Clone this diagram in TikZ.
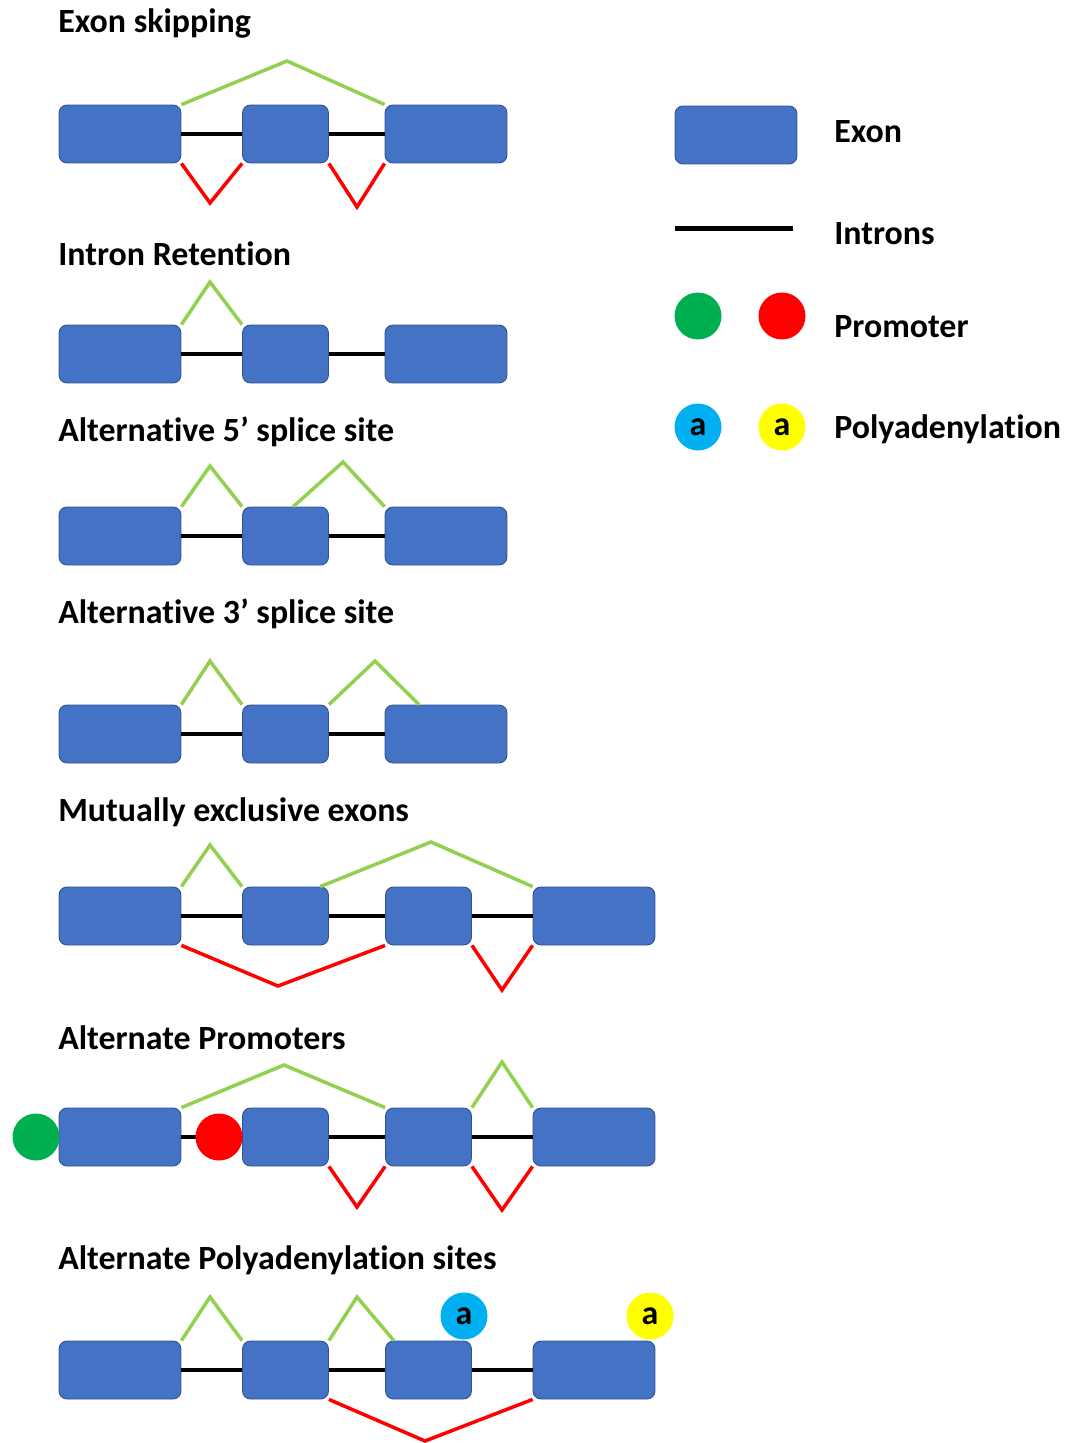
\documentclass[tikz,border=0pt]{standalone}
\usepackage{fontspec}
\setmainfont[Ligatures=NoCommon]{Carlito}
\usetikzlibrary{calc}

\definecolor{exonblue}{HTML}{4472C4}
\definecolor{exonedge}{HTML}{2F528F}
\definecolor{joingreen}{HTML}{92D050}
\definecolor{promgreen}{HTML}{00B050}
\definecolor{polyblue}{HTML}{00B0F0}
\definecolor{polyyellow}{HTML}{FFFF00}

\begin{document}
\begin{tikzpicture}[x=0.02cm,y=-0.02cm,
  exon/.style={draw=exonedge, line width=0.5pt, fill=exonblue, rounded corners=0.16cm,
    minimum height=1.16cm, inner sep=0pt},
  wide/.style={minimum width=2.44cm},
  narrow/.style={minimum width=1.72cm},
  intron/.style={line width=0.07cm, black},
  incl/.style={line width=0.07cm, joingreen},
  excl/.style={line width=0.07cm, red},
  title/.style={anchor=base west, inner sep=0pt, font=\bfseries\fontsize{19.3}{23}\selectfont},
  dot/.style={circle, minimum size=0.94cm, inner sep=0pt, font=\bfseries\fontsize{19.3}{23}\selectfont}]
\useasboundingbox (0,0) rectangle (1070,1443);

% Titles
\node[title] (t1) at (58,33) {Exon skipping};
\node[title] (t2) at (58,265) {Intron Retention};
\node[title] (t3) at (58,441) {Alternative 5’ splice site};
\node[title] (t4) at (58,623) {Alternative 3’ splice site};
\node[title] (t5) at (58,821) {Mutually exclusive exons};
\node[title] (t6) at (58,1049) {Alternate Promoters};
\node[title] (t7) at (58,1269) {Alternate Polyadenylation sites};

% First two exons of every row
\foreach \r/\y in {1/134,2/354,3/536,4/734,5/916,6/1137,7/1370} {
  \node[exon,wide] (e\r1) at (120,\y) {};
  \node[exon,narrow] (e\r2) at (285.5,\y) {};
  \draw[intron] (e\r1.east) -- (e\r2.west);
}
% Three-exon rows
\foreach \r/\y in {1/134,2/354,3/536,4/734} {
  \node[exon,wide] (e\r3) at (446,\y) {};
  \draw[intron] (e\r2.east) -- (e\r3.west);
}
% Four-exon rows
\foreach \r/\y in {5/916,6/1137,7/1370} {
  \node[exon,narrow] (e\r3) at (428.5,\y) {};
  \node[exon,wide] (e\r4) at (594,\y) {};
  \draw[intron] (e\r2.east) -- (e\r3.west);
  \draw[intron] (e\r3.east) -- (e\r4.west);
}

% Exon skipping
\coordinate (p1a) at (287,61);
\coordinate (p1b) at (210,203);
\coordinate (p1c) at (357,207);
\draw[incl] (e11.north east) -- (p1a) -- (e13.north west);
\draw[excl] (e11.south east) -- (p1b) -- (e12.south west);
\draw[excl] (e12.south east) -- (p1c) -- (e13.south west);

% Intron retention
\coordinate (p2a) at (210,282);
\draw[incl] (e21.north east) -- (p2a) -- (e22.north west);

% Alternative 5' splice site
\coordinate (p3a) at (210,466);
\coordinate (p3b) at (343,462);
\draw[incl] (e31.north east) -- (p3a) -- (e32.north west);
\draw[incl] ($(e32.north west)!0.59!(e32.north east)$) -- (p3b) -- (e33.north west);

% Alternative 3' splice site
\coordinate (p4a) at (210,661);
\coordinate (p4b) at (375,661);
\draw[incl] (e41.north east) -- (p4a) -- (e42.north west);
\draw[incl] (e42.north east) -- (p4b) -- ($(e43.north west)!0.28!(e43.north east)$);

% Mutually exclusive exons
\coordinate (p5a) at (210,845);
\coordinate (p5b) at (431,842);
\coordinate (p5c) at (278,986);
\coordinate (p5d) at (502,990);
\draw[incl] (e51.north east) -- (p5a) -- (e52.north west);
\draw[incl] ($(e52.north west)!0.9!(e52.north east)$) -- (p5b) -- (e54.north west);
\draw[excl] (e51.south east) -- (p5c) -- (e53.south west);
\draw[excl] (e53.south east) -- (p5d) -- (e54.south west);

% Alternate promoters
\coordinate (p6a) at (284,1065);
\coordinate (p6b) at (502,1062);
\coordinate (p6c) at (357,1207);
\coordinate (p6d) at (502,1210);
\draw[incl] (e61.north east) -- (p6a) -- (e63.north west);
\draw[incl] (e63.north east) -- (p6b) -- (e64.north west);
\draw[excl] (e62.south east) -- (p6c) -- (e63.south west);
\draw[excl] (e63.south east) -- (p6d) -- (e64.south west);
\node[dot, fill=promgreen] (pr1) at (36,1137) {};
\node[dot, fill=red] (pr2) at (219,1137) {};

% Alternate polyadenylation sites
\coordinate (p7a) at (210,1297);
\coordinate (p7b) at (357,1297);
\coordinate (p7c) at (425,1441);
\draw[incl] (e71.north east) -- (p7a) -- (e72.north west);
\draw[incl] (e72.north east) -- (p7b) -- ($(e73.north west)!0.1!(e73.north east)$);
\draw[excl] (e72.south east) -- (p7c) -- (e74.south west);
\node[dot, fill=polyblue] (pa1) at (464,1316) {a};
\node[dot, fill=polyyellow] (pa2) at (650,1316) {a};

% Legend
\node[exon,wide] (lexon) at (736,135) {};
\coordinate (li1) at (675,228);
\coordinate (li2) at (793,228);
\draw[line width=0.1cm] (li1) -- (li2);
\node[dot, fill=promgreen] (lp1) at (698,316) {};
\node[dot, fill=red] (lp2) at (782,316) {};
\node[dot, fill=polyblue] (la1) at (698,427) {a};
\node[dot, fill=polyyellow] (la2) at (782,427) {a};
\node[title] (l1) at (834,142) {Exon};
\node[title] (l2) at (834,244) {Introns};
\node[title] (l3) at (834,337) {Promoter};
\node[title] (l4) at (834,438) {Polyadenylation};
\end{tikzpicture}
\end{document}
